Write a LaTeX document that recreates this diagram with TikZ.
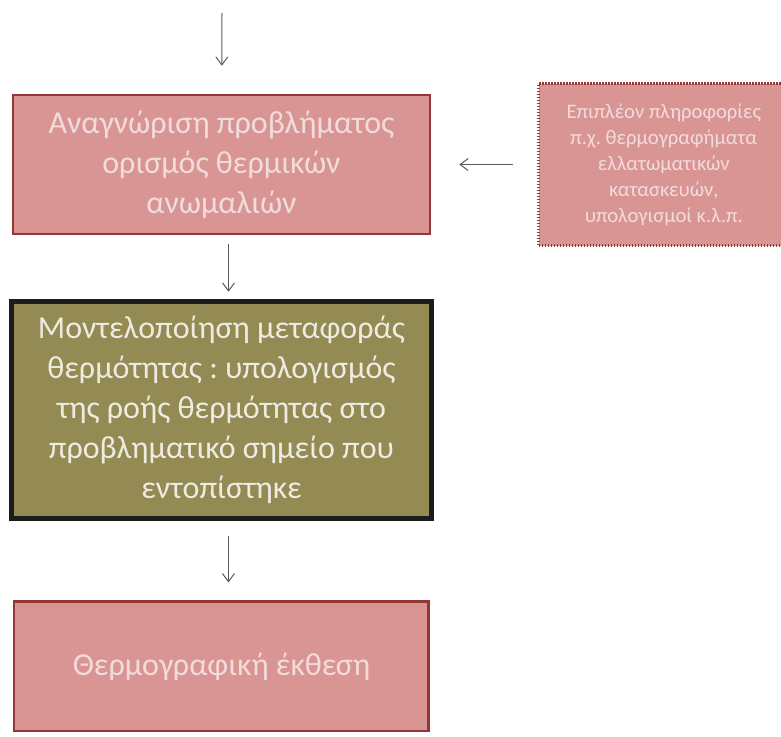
\documentclass[tikz,border=0pt]{standalone}
\usepackage{fontspec}
\setmainfont{Carlito}
\usetikzlibrary{arrows.meta, positioning}
\definecolor{crose}{HTML}{D99594}
\definecolor{cmaroon}{HTML}{943634}
\definecolor{colive}{HTML}{948A54}
\definecolor{cdark}{HTML}{1C1C1C}
\definecolor{cpale}{HTML}{F2DCDB}
\definecolor{ccream}{HTML}{EEECE1}
\definecolor{carrow}{HTML}{595959}
\tikzset{
  box/.style 2 args={
    draw=cmaroon, fill=crose, text=cpale,
    minimum width=#1, minimum height=#2,
    align=center, line width=2pt, inner sep=4pt,
    font=\fontsize{24}{30}\selectfont,
  },
  modelbox/.style={
    box={315pt}{163pt},
    draw=cdark, fill=colive, text=ccream, line width=3.75pt,
  },
  notebox/.style={
    box={187.5pt}{121.5pt},
    dash pattern=on 1.2pt off 1.05pt, line width=2.25pt,
    font=\fontsize{15.5}{19.5}\selectfont,
  },
  arr/.style={
    -{Straight Barb[length=6pt,width=9pt]},
    line width=0.75pt, color=carrow,
  },
}
\frenchspacing
\begin{document}
\begin{tikzpicture}[node distance=49.5pt]
\useasboundingbox (0,0) rectangle (585.75pt,-552pt);

%% -- main column -------------------------------------------
\coordinate (entry) at (166.5pt,-9.75pt);

\node[box={312.75pt}{104.25pt}] (ident) at (166.1pt,-123.4pt) {%
  Αναγνώριση προβλήματος\\
  ορισμός θερμικών\\
  ανωμαλιών%
};

\node[modelbox, below=47.5pt of ident] (model) {%
  Μοντελοποίηση μεταφοράς\\
  θερμότητας : υπολογισμός\\
  της ροής θερμότητας στο\\
  προβληματικό σημείο που\\
  εντοπίστηκε%
};

\node[box={311pt}{97pt}, below=59.5pt of model] (report) {%
  Θερμογραφική έκθεση%
};

%% -- side note ---------------------------------------------
\node[notebox, right=79.5pt of ident] (extra) {%
  Επιπλέον πληροφορίες\\
  π.χ. θερμογραφήματα\\
  ελλατωματικών\\
  κατασκευών,\\
  υπολογισμοί κ.λ.π.%
};

%% -- arrows ------------------------------------------------
\draw[arr, shorten >=21pt] (entry) -- (ident);
\draw[arr, shorten <=6.75pt, shorten >=5.25pt]
  ([xshift=5.25pt]ident.south) -- ([xshift=5.25pt]model.north);
\draw[arr, shorten <=11.25pt, shorten >=13.5pt]
  ([xshift=5.25pt]model.south) -- ([xshift=5.25pt]report.north);
\draw[arr, shorten <=18pt, shorten >=21pt]
  (extra.west) -- (extra.west -| ident.east);

\end{tikzpicture}
\end{document}
